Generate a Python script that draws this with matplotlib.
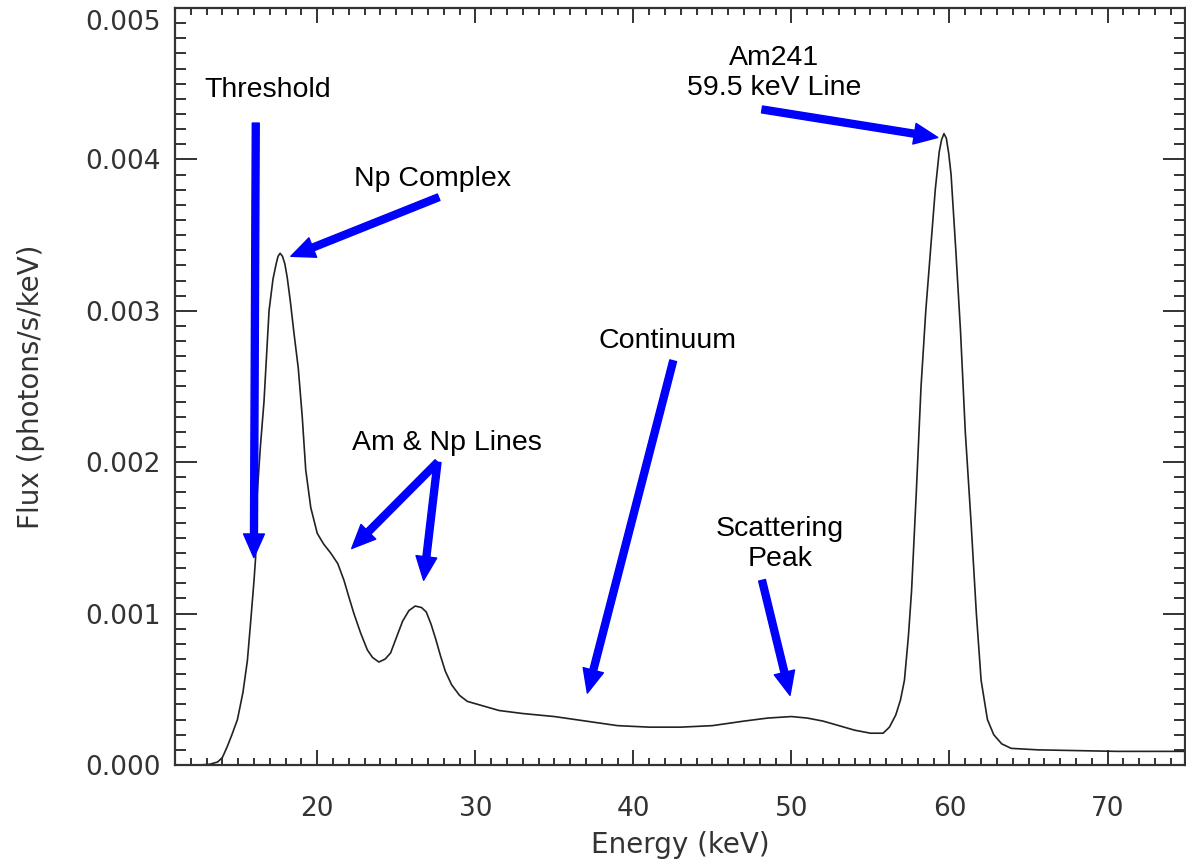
import numpy as np
import matplotlib
matplotlib.use("Agg")
import matplotlib.pyplot as plt
from matplotlib.ticker import MultipleLocator, FormatStrFormatter
from matplotlib.transforms import ScaledTranslation

# spectrum
energy = [12.0, 12.6, 13.2, 13.7, 14.0, 14.3, 14.6, 14.95, 15.3, 15.58,
          15.79, 16.0, 16.1, 16.2, 16.4, 16.63, 16.95, 17.2, 17.4, 17.52,
          17.65, 17.8, 17.95, 18.1, 18.3, 18.53, 18.8, 19.05, 19.27, 19.59,
          20.0, 20.4, 20.85, 21.3, 21.69, 22.0, 22.32, 22.75, 23.17, 23.5,
          23.9, 24.3, 24.64, 25.0, 25.4, 25.8, 26.2, 26.6, 26.9, 27.2,
          27.5, 27.8, 28.1, 28.5, 29.0, 29.5, 30.5, 31.5, 33.0, 35.0,
          37.0, 39.0, 41.0, 43.0, 45.0, 47.0, 48.5, 50.0, 51.0, 52.0,
          53.0, 54.0, 55.0, 55.8, 56.2, 56.6, 56.9, 57.15, 57.4, 57.6,
          57.9, 58.2, 58.5, 58.8, 59.1, 59.35, 59.5, 59.65, 59.8, 59.95,
          60.1, 60.4, 60.7, 61.0, 61.36, 61.7, 62.0, 62.4, 62.8, 63.3,
          63.9, 65.6, 70.6, 75.0]
flux = [0.0, 0.0, 0.000005, 0.00002, 0.00005, 0.00012, 0.0002, 0.0003, 0.00048, 0.00069,
        0.00095, 0.00122, 0.00137, 0.00179, 0.0021, 0.0024, 0.00300, 0.00321, 0.00331, 0.00336,
        0.00338, 0.00336, 0.00331, 0.00322, 0.00306, 0.00285, 0.00262, 0.0023, 0.00195, 0.0017,
        0.00153, 0.00146, 0.0014, 0.00133, 0.00122, 0.00111, 0.001, 0.00087, 0.00076, 0.00071,
        0.00068, 0.0007, 0.00074, 0.00084, 0.00095, 0.00102, 0.00105, 0.00104, 0.00101, 0.00093,
        0.00083, 0.00072, 0.00062, 0.00053, 0.00046, 0.00042, 0.00039, 0.00036, 0.00034, 0.00032,
        0.00029, 0.00026, 0.00025, 0.00025, 0.00026, 0.00029, 0.00031, 0.00032, 0.00031, 0.00029,
        0.00026, 0.00023, 0.00021, 0.00021, 0.00025, 0.00033, 0.00043, 0.00056, 0.00085, 0.00115,
        0.0018, 0.0025, 0.0030, 0.0034, 0.0038, 0.00405, 0.00413, 0.00417, 0.00414, 0.00404,
        0.0039, 0.0034, 0.00286, 0.0022, 0.00161, 0.001, 0.00056, 0.0003, 0.0002, 0.00014,
        0.00011, 0.0001, 0.00009, 0.00009]

# labels: text, text position, arrow tails and heads (keV, flux)
labels = ["Threshold", "Np Complex", "Am & Np Lines", "Continuum",
          "Scattering\nPeak", "Am241\n59.5 keV Line"]
label_pos = [(16.87, 0.00446), (27.3, 0.00387), (28.18, 0.00213), (42.14, 0.0028),
             (49.28, 0.00146), (48.9, 0.00457)]
arrow_from = [(16.11, 0.00424), (27.68, 0.00375), (27.61, 0.0020), (27.61, 0.0020),
              (42.52, 0.00267), (48.14, 0.00122), (48.14, 0.00433)]
arrow_to = [(15.99, 0.00137), (18.33, 0.00336), (22.18, 0.00143), (26.73, 0.00122),
            (37.09, 0.000475), (49.91, 0.00046), (59.26, 0.004145)]

fig = plt.figure(figsize=(11.86, 8.63), dpi=100)
ax = fig.add_axes([175/1186, 1 - 765/863, 1010/1186, 757/863])

ax.plot(energy, flux, color='#222222', lw=1.2)

for txt, (x, y) in zip(labels, label_pos):
    ax.text(x, y, txt, ha='center', va='center', fontsize=20.5,
            family='Liberation Sans', linespacing=1.2, color='black')

for (x0, y0), (x1, y1) in zip(arrow_from, arrow_to):
    ax.annotate('', xy=(x1, y1), xytext=(x0, y0),
                arrowprops=dict(facecolor='#0000ff', edgecolor='#0000ff',
                                width=5, headwidth=15, headlength=17, shrink=0))

ax.set_xlim(11, 74.9)
ax.set_ylim(0, 0.005)
ax.xaxis.set_major_locator(MultipleLocator(10))
ax.xaxis.set_minor_locator(MultipleLocator(1))
ax.yaxis.set_major_locator(MultipleLocator(0.001))
ax.yaxis.set_minor_locator(MultipleLocator(0.0001))
ax.yaxis.set_major_formatter(FormatStrFormatter('%.3f'))

ax.tick_params(axis='both', which='both', direction='in', top=True, right=True,
               colors='#333333', width=1.4, labelsize=19, labelcolor='#333333')
ax.tick_params(axis='x', which='major', length=11, pad=22)
ax.tick_params(axis='x', which='minor', length=5)
ax.tick_params(axis='y', which='major', length=16, pad=10)
ax.tick_params(axis='y', which='minor', length=8)
for s in ax.spines.values():
    s.set_color('#333333')
    s.set_linewidth(1.6)

ax.set_xlabel('Energy (keV)', fontsize=20, color='#333333', labelpad=7)
ax.set_ylabel('Flux (photons/s/keV)', fontsize=20, color='#333333', labelpad=29)

# the top label sits inside the picture, as in the original
fig.canvas.draw()
for lab in ax.get_yticklabels():
    if lab.get_text() == '0.005':
        lab.set_transform(lab.get_transform() + ScaledTranslation(0, -12/100, fig.dpi_scale_trans))

fig.savefig('out.png', dpi=100)
